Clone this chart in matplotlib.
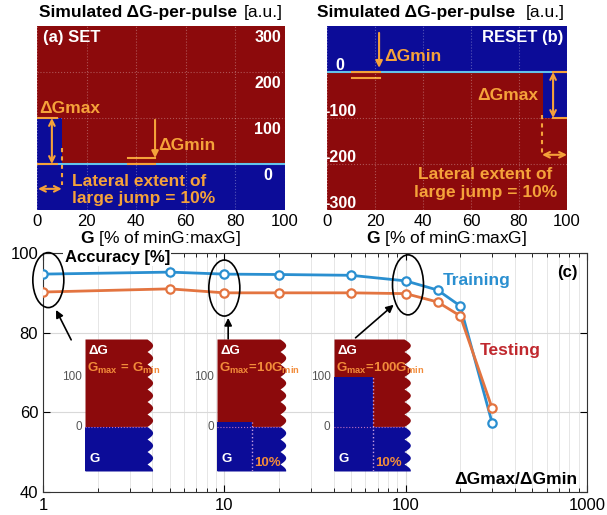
import numpy as np
import matplotlib
matplotlib.use('Agg')
import matplotlib.pyplot as plt
from matplotlib.patches import Ellipse
from matplotlib.transforms import ScaledTranslation

plt.rcParams['font.family'] = ['Liberation Sans', 'DejaVu Sans']
plt.rcParams['mathtext.fontset'] = 'custom'
plt.rcParams['mathtext.rm'] = 'Liberation Sans'
plt.rcParams['mathtext.bf'] = 'Liberation Sans:bold'
plt.rcParams['mathtext.it'] = 'Liberation Sans:italic'

# --- data ---
# panel (a) SET: dG-per-pulse vs G
set_g = [0, 10, 10, 100]
set_dg = [100, 100, 1, 1]
# panel (b) RESET
reset_g = [0, 90, 90, 100]
reset_dg = [-1, -1, -100, -100]

# panel (c) accuracy vs dGmax/dGmin
ratio = [1, 5, 10, 20, 50, 100, 150, 200, 300]
train_acc = [94.7, 95.2, 94.7, 94.6, 94.4, 93.0, 90.7, 86.7, 57.3]
test_acc = [90.2, 91.0, 90.0, 90.0, 90.0, 89.8, 87.7, 84.2, 61.0]

# insets: schematic curves for three ratios
inset_ratio = [1, 10, 100]
inset_text = [r'$\mathbf{G_{max}\,=\,G_{min}}$',
              r'$\mathbf{G_{max}\!=\!10G_{min}}$',
              r'$\mathbf{G_{max}\!=\!100G_{min}}$']
dg_min = 1

# ellipses marking the inset cases (center in data, size in px)
ell_center = [(1.07, 93.2), (10, 91.2), (103, 92.0)]
ell_size = [(31, 55), (31, 56), (31, 60)]
arrow_head = [(1.18, 85.7), (10.5, 83.7), (85.9, 87.0)]
arrow_tail = [(1.43, 78.2), (10.5, 78.4), (52.9, 78.7)]

RED = '#8c0a0c'
BLUE = '#0c0c98'
CYAN = '#63c3ea'
ORANGE = '#f5a23a'
INSET_OR = '#f28c3a'
TRAIN = '#2a8fd0'
TEST = '#e37440'

W, H = 607, 515
fig = plt.figure(figsize=(W / 100, H / 100), dpi=100)


def px_axes(left, top, width, height):
    return fig.add_axes([left / W, 1 - (top + height) / H, width / W, height / H])


def style_map(ax):
    for s in ax.spines.values():
        s.set_visible(False)
    ax.set_xlim(0, 100)
    ax.set_xticks(range(0, 101, 20))
    ax.tick_params(axis='x', length=0, pad=3, labelsize=12)
    ax.tick_params(axis='y', left=False, labelleft=False)
    ax.grid(True, color='white', alpha=0.3, ls=':', lw=0.8)
    ax.set_axisbelow(False)
    ax.set_xlabel(r'$\mathbf{G}$ [% of minG:maxG]', fontsize=12.5, labelpad=0)


def arrow(ax, xy, xytext, style='<->', color=ORANGE):
    ax.annotate('', xy=xy, xytext=xytext,
                arrowprops=dict(arrowstyle=style, color=color, lw=1.5,
                                shrinkA=0, shrinkB=0, mutation_scale=10))


tb = dict(color=ORANGE, fontweight='bold', fontsize=12.5)
wb = dict(color='white', fontweight='bold', fontsize=11.5)

# ---------------- (a) SET ----------------
ax = px_axes(37, 26, 248, 184)
ax.set_ylim(-100, 300)
ax.fill_between(set_g, -100, set_dg, color=BLUE, lw=0)
ax.fill_between(set_g, set_dg, 300, color=RED, lw=0)
ax.axhline(0, color=CYAN, lw=1.5, zorder=3)
ax.set_yticks([100, 200])
style_map(ax)
ax.text(0.01, 1.076, 'Simulated ΔG-per-pulse', transform=ax.transAxes,
        fontweight='bold', fontsize=12.5, va='center')
ax.text(0.99, 1.076, '[a.u.]', transform=ax.transAxes, fontsize=12.5,
        va='center', ha='right')
for v in [300, 200, 100, 0]:
    ax.text(93, v - 24, str(v), ha='center', va='center', **wb)
ax.text(2.4, 274, '(a) SET', va='center', color='white', fontweight='bold', fontsize=12)
ax.text(1, 104, 'ΔGmax', va='bottom', **tb)
ax.plot([0.4, 8], [100, 100], color=ORANGE, lw=1.5, zorder=4)
ax.plot([0.4, 8], [0, 0], color=ORANGE, lw=1.5, zorder=4)
arrow(ax, (6, 0), (6, 100))
ax.plot([10, 10], [35, -45], color=ORANGE, ls=(0, (2, 2)), lw=1.5)
arrow(ax, (0.4, -54), (10, -54))
arrow(ax, (47.6, 13), (47.6, 96), style='-|>')
ax.plot([36.7, 47.6], [13, 13], color=ORANGE, lw=1.5)
ax.plot([36.7, 47.6], [0, 0], color=ORANGE, lw=1.5, zorder=4)
ax.text(49, 41, 'ΔGmin', va='center', **tb)
ax.text(14, -56, 'Lateral extent of\nlarge jump = 10%', va='center', **tb)

# ---------------- (b) RESET ----------------
ax = px_axes(327, 26, 240, 184)
ax.set_ylim(-300, 100)
ax.fill_between(reset_g, -300, reset_dg, color=RED, lw=0)
ax.fill_between(reset_g, reset_dg, 100, color=BLUE, lw=0)
ax.axhline(0, color=CYAN, lw=1.5, zorder=3)
ax.set_yticks([-100, -200])
style_map(ax)
ax.text(-0.04, 1.076, 'Simulated ΔG-per-pulse', transform=ax.transAxes,
        fontweight='bold', fontsize=12.5, va='center')
ax.text(0.99, 1.076, '[a.u.]', transform=ax.transAxes, fontsize=12.5,
        va='center', ha='right')
for v in [0, -100, -200, -300]:
    ax.text(5.5, v + 15, str(v), ha='center', va='center', **wb)
ax.text(98.3, 74, 'RESET (b)', ha='right', va='center', color='white',
        fontweight='bold', fontsize=12)
arrow(ax, (21.7, 9), (21.7, 85), style='-|>')
ax.plot([10.4, 22], [0, 0], color=ORANGE, lw=1.5, zorder=4)
ax.plot([10.4, 22], [-13, -13], color=ORANGE, lw=1.5)
ax.text(24, 33, 'ΔGmin', va='center', **tb)
ax.plot([94.2, 100], [0, 0], color=ORANGE, lw=1.5, zorder=4)
ax.plot([94.2, 100], [-100, -100], color=ORANGE, lw=1.5, zorder=4)
arrow(ax, (94.2, -100), (94.2, 0))
ax.text(88, -50, 'ΔGmax', ha='right', va='center', **tb)
ax.plot([89.6, 89.6], [-93, -180], color=ORANGE, ls=(0, (2, 2)), lw=1.5)
arrow(ax, (89.6, -180), (100, -180))
ax.text(66, -242, 'Lateral extent of\nlarge jump = 10%', ha='center', va='center',
        multialignment='center', **tb)

# ---------------- (c) accuracy ----------------
ax = px_axes(43, 253, 544, 239)
ax.set_xscale('log')
ax.set_xlim(1, 1000)
ax.set_ylim(40, 100)
ax.plot(ratio, train_acc, '-o', color=TRAIN, lw=2, ms=6, mfc='white', mew=1.6, zorder=5)
ax.plot(ratio, test_acc, '-o', color=TEST, lw=2, ms=6, mfc='white', mew=1.6, zorder=5)
ax.set_xticks([1, 10, 100, 1000])
ax.set_xticklabels(['1', '10', '100', '1000'])
ax.set_yticks([40, 60, 80, 100])
ax.tick_params(which='both', direction='in', top=True, right=True, labelsize=12)
ax.tick_params(which='major', length=5)
ax.tick_params(which='minor', length=3)
ax.tick_params(axis='x', pad=4)
ax.grid(True, which='major', color='#d9d9d9', lw=0.8)
ax.grid(True, which='minor', axis='x', color='#e6e6e6', lw=0.7)
for s in ax.spines.values():
    s.set_color('#333333')
ax.text(0.040, 0.983, 'Accuracy [%]', transform=ax.transAxes, fontweight='bold',
        fontsize=12, va='center', bbox=dict(fc='white', ec='none', pad=1), zorder=6)
ax.text(0.982, 0.92, '(c)', transform=ax.transAxes, fontweight='bold',
        fontsize=12, va='center', ha='right')
ax.text(0.735, 0.887, 'Training', transform=ax.transAxes, fontweight='bold',
        fontsize=12.5, va='center', color=TRAIN)
ax.text(0.803, 0.594, 'Testing', transform=ax.transAxes, fontweight='bold',
        fontsize=12.5, va='center', color='#c0282e')
ax.text(0.982, 0.054, 'ΔGmax/ΔGmin', transform=ax.transAxes, fontweight='bold',
        fontsize=12.5, va='center', ha='right')

for (cx, cy), (ew, eh) in zip(ell_center, ell_size):
    tr = fig.dpi_scale_trans + ScaledTranslation(cx, cy, ax.transData)
    ax.add_patch(Ellipse((0, 0), ew / 100, eh / 100, transform=tr, fill=False,
                         ec='k', lw=1.2, clip_on=False, zorder=7))
for head, tail in zip(arrow_head, arrow_tail):
    ax.annotate('', xy=head, xytext=tail,
                arrowprops=dict(arrowstyle='-|>', color='k', lw=1.2,
                                shrinkA=0, shrinkB=0, mutation_scale=11))

# insets
inset_left = [85, 217, 334]
inset_body = [62, 63, 70]
jump_w = 0.55
for i, r in enumerate(inset_ratio):
    iax = px_axes(inset_left[i], 339, inset_body[i] * 1.1, 132)
    iax.set_xlim(0, 1.1)
    iax.set_ylim(-88, 176)
    iax.axis('off')
    ys = np.linspace(-88, 176, 800)
    xr = 1 + 0.09 * np.abs(np.sin(np.pi * (176 - ys) / 25))
    iax.fill_betweenx(ys, 0, xr, where=ys >= dg_min, interpolate=True, color=RED, lw=0)
    iax.fill_betweenx(ys, 0, xr, where=ys <= dg_min, interpolate=True, color=BLUE, lw=0)
    jump = r * dg_min
    iax.fill_between([0, jump_w], -88, jump, color=BLUE, lw=0)
    iax.plot([0, 1], [0, 0], ls=':', color='#c070c0', lw=0.8)
    if r > 1:
        iax.plot([jump_w, jump_w], [-88, jump], ls=':', color='#c8a0e0', lw=1)
        iax.text(jump_w + 0.04, -72, '10%', color=INSET_OR, fontweight='bold',
                 fontsize=9.5, va='center')
    iax.text(0.05, 152, 'ΔG', color='white', fontweight='bold', fontsize=9.5, va='center')
    iax.text(0.03, 118, inset_text[i], color=INSET_OR, fontsize=9.5, va='center')
    iax.text(0.07, -64, 'G', color='white', fontweight='bold', fontsize=9.5, va='center')
    iax.text(-0.05, 100, '100', ha='right', va='center', fontsize=8.5, color='#555555')
    iax.text(-0.05, 0, '0', ha='right', va='center', fontsize=8.5, color='#555555')

fig.savefig('out.png', dpi=100)
